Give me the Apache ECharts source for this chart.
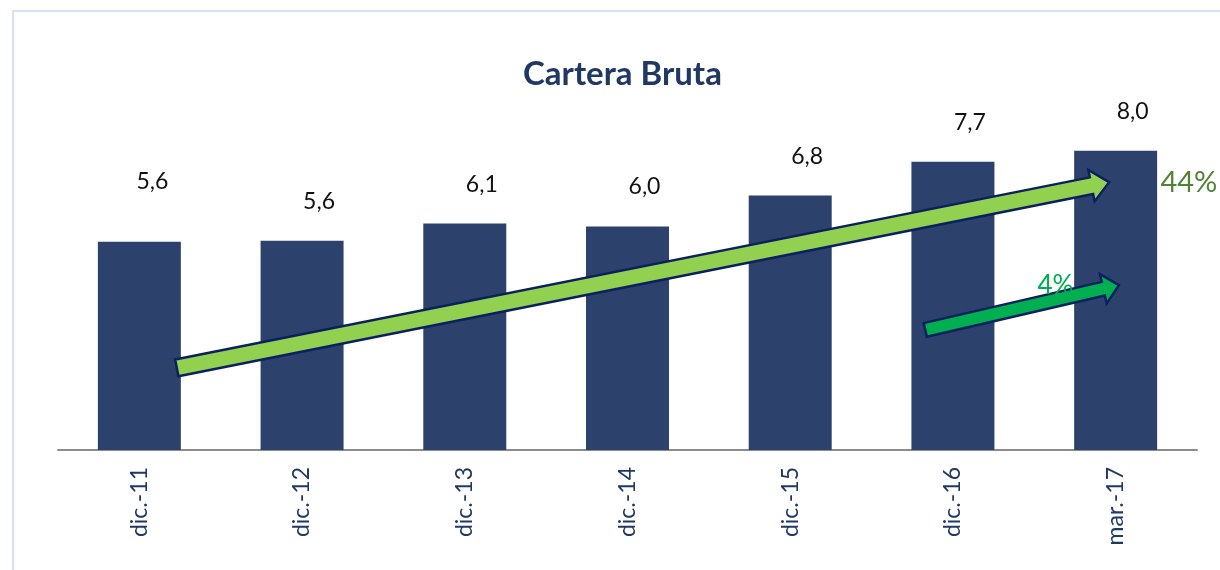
<!DOCTYPE html>
<html>
<head>
<meta charset="utf-8">
<script src="https://cdn.jsdelivr.net/npm/echarts@6/dist/echarts.min.js"></script>
<style>
  html, body { margin: 0; padding: 0; background: #fff; }
  #chart { width: 1220px; height: 570px; }
</style>
</head>
<body>
<div id="chart"></div>
<script>
// datos
const categorias = ['dic.-11', 'dic.-12', 'dic.-13', 'dic.-14', 'dic.-15', 'dic.-16', 'mar.-17'];
const cartera = [5.58, 5.61, 6.07, 5.99, 6.82, 7.73, 8.02];
const crecimientoTotal = '44%';
const crecimientoTrim = '4%';

const font = 'Lato, "Open Sans", sans-serif';

const option = {
  animation: false,
  title: {
    text: 'Cartera Bruta',
    left: 518,
    top: 53,
    textStyle: { fontFamily: font, fontSize: 33, fontWeight: 'bold', color: '#1f3864' }
  },
  grid: { left: 58, right: 23, top: 77, bottom: 120 },
  xAxis: {
    type: 'category',
    data: categorias,
    axisLine: { lineStyle: { color: '#8c8c8c', width: 2 } },
    axisTick: { show: false },
    axisLabel: { rotate: 90, margin: 17, fontFamily: font, fontSize: 23, color: '#1f3864' }
  },
  yAxis: { type: 'value', min: 0, max: 10, show: false, splitLine: { show: false } },
  series: [{
    type: 'bar',
    barWidth: '51%',
    itemStyle: { color: '#2c426c' },
    label: {
      show: true,
      position: 'top',
      distance: 28,
      offset: [17, 0],
      fontFamily: font,
      fontSize: 23,
      color: '#111',
      formatter: p => p.value.toFixed(1).replace('.', ',')
    },
    // la primera etiqueta está más alta en el original
    data: cartera.map((v, i) => i === 0 ? { value: v, label: { offset: [13, -21] } } : v)
  }]
};

const myChart = echarts.init(document.getElementById('chart'));
myChart.setOption(option);

// flechas de crecimiento ancladas al eje
function pt(cat, frac, val) {
  const p0 = myChart.convertToPixel({ seriesIndex: 0 }, [cat, val]);
  const p1 = myChart.convertToPixel({ seriesIndex: 0 }, [1, val]);
  const p2 = myChart.convertToPixel({ seriesIndex: 0 }, [0, val]);
  return [p0[0] + frac * (p1[0] - p2[0]), p0[1]];
}
function flecha(a, b, half, headHalf, headLen) {
  const dx = b[0] - a[0], dy = b[1] - a[1];
  const len = Math.sqrt(dx * dx + dy * dy);
  const ux = dx / len, uy = dy / len, nx = -uy, ny = ux;
  const hb = [b[0] - ux * headLen, b[1] - uy * headLen];
  return [
    [a[0] + nx * half, a[1] + ny * half],
    [hb[0] + nx * half, hb[1] + ny * half],
    [hb[0] + nx * headHalf, hb[1] + ny * headHalf],
    b,
    [hb[0] - nx * headHalf, hb[1] - ny * headHalf],
    [hb[0] - nx * half, hb[1] - ny * half],
    [a[0] - nx * half, a[1] - ny * half]
  ];
}

const grande = flecha(pt(0, 0.23, 2.2), pt(6, -0.04, 7.18), 8.5, 16, 18);
const chica = flecha(pt(5, -0.17, 3.22), pt(6, 0.02, 4.42), 7, 15, 16);
const t44 = pt(6, 0.45, 7.16);
const t4 = pt(6, -0.37, 4.42);

myChart.setOption({
  graphic: [
    { type: 'rect', shape: { x: 13, y: 11, width: 1300, height: 700 }, style: { fill: 'none', stroke: '#c6d9f1', lineWidth: 1.5 }, silent: true },
    { type: 'polygon', shape: { points: grande }, style: { fill: '#92d050', stroke: '#0b2060', lineWidth: 2.5 }, z: 10 },
    { type: 'polygon', shape: { points: chica }, style: { fill: '#00b050', stroke: '#0b2060', lineWidth: 2.5 }, z: 10 },
    { type: 'text', x: t44[0], y: t44[1], style: { text: crecimientoTotal, fill: '#548235', fontFamily: font, fontSize: 29, align: 'center', verticalAlign: 'middle' }, z: 11 },
    { type: 'text', x: t4[0], y: t4[1], style: { text: crecimientoTrim, fill: '#00b050', fontFamily: font, fontSize: 26, align: 'center', verticalAlign: 'middle' }, z: 11 }
  ]
});
</script>
</body>
</html>
